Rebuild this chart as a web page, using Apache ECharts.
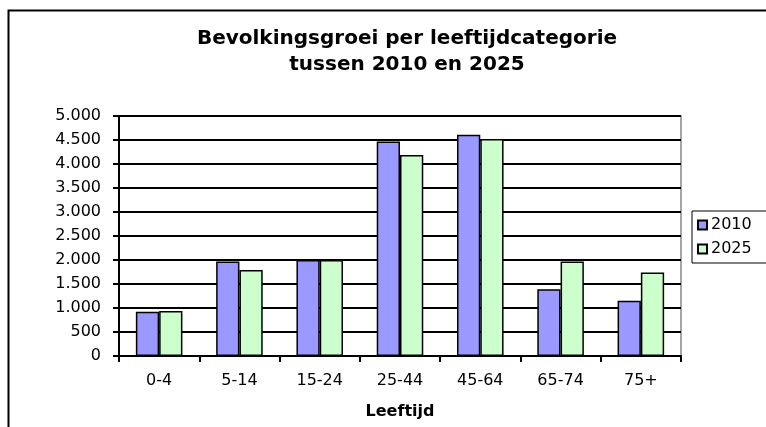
<!DOCTYPE html>
<html lang="nl">
<head>
    <meta charset="UTF-8">
    <title>Bevolkingsgroei</title>
    <script src="https://cdn.jsdelivr.net/npm/echarts@6/dist/echarts.min.js"></script>
    <style>
        body { margin: 0; background: #fff; }
        #chart { width: 766px; height: 427px; }
    </style>
</head>
<body>
<div id="chart"></div>
<script>
    // leeftijdscategorieen en waarden
    var categories = ["0-4", "5-14", "15-24", "25-44", "45-64", "65-74", "75+"];
    var values2010 = [920, 1970, 2000, 4470, 4610, 1390, 1150];
    var values2025 = [940, 1790, 2000, 4190, 4520, 1970, 1740];
    var yTicks = [0, 500, 1000, 1500, 2000, 2500, 3000, 3500, 4000, 4500, 5000];

    var font = 'Verdana, "DejaVu Sans", sans-serif';

    function fmt(v) {
        return String(v).replace(/\B(?=(\d{3})+(?!\d))/g, '.');
    }

    var chart = echarts.init(document.getElementById('chart'));
    chart.setOption({
        animation: false,
        backgroundColor: '#fff',
        title: {
            text: 'Bevolkingsgroei per leeftijdcategorie\ntussen 2010 en 2025',
            left: 402,
            top: 21,
            textAlign: 'center',
            textStyle: {
                fontFamily: font,
                fontSize: 20,
                fontWeight: 'bold',
                color: '#000',
                lineHeight: 26
            }
        },
        graphic: [{
            type: 'rect',
            shape: { x: 8.5, y: 10.5, width: 800, height: 500 },
            style: { fill: 'none', stroke: '#000', lineWidth: 2 },
            silent: true
        }],
        legend: {
            orient: 'vertical',
            left: 692,
            top: 211,
            padding: [5, 20, 5, 5],
            itemGap: 6,
            itemWidth: 9,
            itemHeight: 9,
            icon: 'rect',
            borderColor: '#000',
            borderWidth: 1,
            textStyle: { fontFamily: font, fontSize: 16, color: '#000', lineHeight: 18, padding: [0, 0, 0, -1] },
            data: ['2010', '2025']
        },
        grid: {
            left: 119,
            right: 85,
            top: 116,
            bottom: 71,
            show: true,
            borderColor: '#888',
            borderWidth: 1.5
        },
        xAxis: {
            type: 'category',
            data: categories,
            name: 'Leeftijd',
            nameLocation: 'middle',
            nameGap: 48,
            nameTextStyle: { fontFamily: font, fontSize: 16, fontWeight: 'bold', color: '#000' },
            axisLine: { lineStyle: { color: '#000', width: 2 } },
            axisTick: { show: true, length: 6, lineStyle: { color: '#000', width: 2 } },
            axisLabel: { fontFamily: font, fontSize: 16, color: '#000', margin: 17 }
        },
        yAxis: {
            type: 'value',
            min: 0,
            max: 5000,
            interval: 500,
            axisLine: { show: true, lineStyle: { color: '#000', width: 2 } },
            axisTick: { show: true, length: 6, lineStyle: { color: '#000', width: 2 } },
            axisLabel: {
                fontFamily: font, fontSize: 16, color: '#000', margin: 18,
                formatter: function (v) { return yTicks.indexOf(v) >= 0 ? fmt(v) : ''; }
            },
            splitLine: { show: true, lineStyle: { color: '#000', width: 2 } }
        },
        series: [{
            name: '2010',
            type: 'bar',
            data: values2010,
            barGap: '0%',
            barCategoryGap: '42%',
            itemStyle: { color: '#9999FF', borderColor: '#000', borderWidth: 1.5 }
        }, {
            name: '2025',
            type: 'bar',
            data: values2025,
            itemStyle: { color: '#CCFFCC', borderColor: '#000', borderWidth: 1.5 }
        }]
    });
</script>
</body>
</html>
